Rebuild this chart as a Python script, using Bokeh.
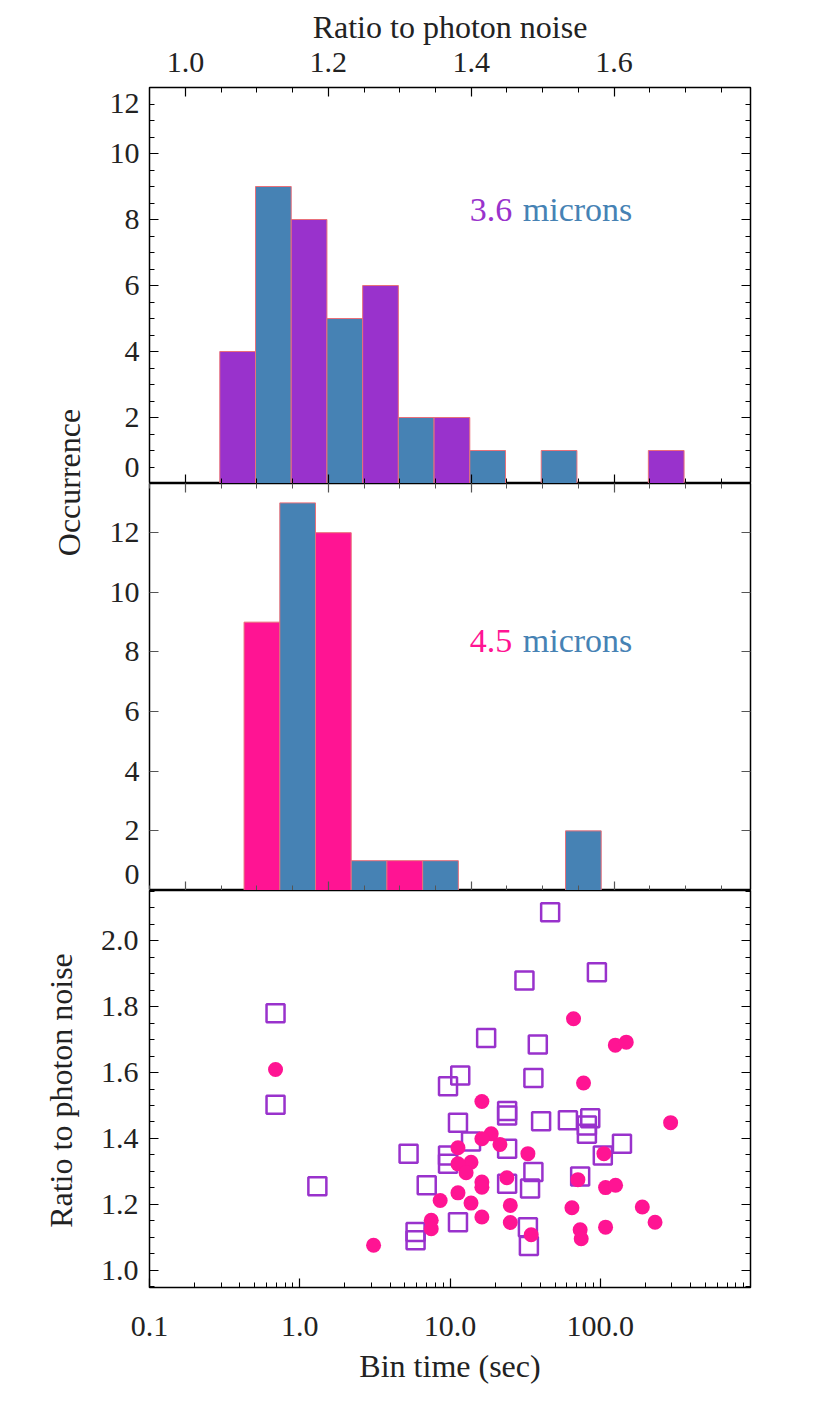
import math

from bokeh.core.properties import value
from bokeh.embed import file_html
from bokeh.layouts import column, row
from bokeh.models import FixedTicker, LinearAxis, LogAxis, PrintfTickFormatter, Range1d
from bokeh.plotting import figure
from bokeh.resources import INLINE

# ---------------------------------------------------------------- data
# Histogram of the ratio to photon noise, 3.6 micron channel
bin_edges_36 = [1.048, 1.098, 1.148, 1.198, 1.248, 1.298, 1.348, 1.398,
                1.448, 1.498, 1.548, 1.598, 1.648, 1.698]
counts_36 = [4, 9, 8, 5, 6, 2, 2, 1, 0, 1, 0, 0, 1]

# Histogram of the ratio to photon noise, 4.5 micron channel
bin_edges_45 = [1.082, 1.132, 1.182, 1.232, 1.282, 1.332, 1.382, 1.432,
                1.482, 1.532, 1.582]
counts_45 = [9, 13, 12, 1, 1, 1, 0, 0, 0, 2]

# Bin time (sec) vs ratio to photon noise, 3.6 micron (open squares)
time_36 = [0.69, 0.69, 1.31, 5.3, 7.0, 5.9, 5.9, 46.4, 95.0, 31.3, 17.4, 38.4,
           11.7, 9.7, 35.9, 11.3, 24.0, 24.0, 40.4, 60.9, 85.8, 81.5, 81.5,
           13.8, 24.0, 9.7, 9.7, 104.0, 139.5, 35.9, 73.5, 24.0, 34.1, 11.3,
           33.0, 33.5]
ratio_36 = [1.780, 1.502, 1.255, 1.354, 1.258, 1.116, 1.091, 2.086, 1.904,
            1.879, 1.705, 1.685, 1.591, 1.558, 1.583, 1.448, 1.483, 1.470,
            1.452, 1.455, 1.461, 1.439, 1.414, 1.391, 1.369, 1.348, 1.323,
            1.348, 1.384, 1.298, 1.285, 1.263, 1.248, 1.146, 1.131, 1.074]

# Bin time (sec) vs ratio to photon noise, 4.5 micron (filled circles)
time_45 = [0.69, 3.1, 66.4, 126.0, 149.0, 77.4, 16.3, 294.0, 18.8, 16.3, 21.5,
           11.3, 33.0, 105.8, 13.8, 11.3, 12.8, 23.9, 71.0, 16.3, 16.3, 11.3,
           8.6, 108.5, 126.5, 13.8, 25.2, 64.8, 190.5, 7.5, 7.5, 16.3, 25.2,
           231.6, 73.5, 74.7, 108.5, 34.7]
ratio_45 = [1.609, 1.076, 1.763, 1.683, 1.692, 1.568, 1.512, 1.448, 1.414,
            1.399, 1.382, 1.372, 1.354, 1.354, 1.328, 1.323, 1.296, 1.281,
            1.275, 1.268, 1.252, 1.235, 1.212, 1.251, 1.258, 1.204, 1.197,
            1.190, 1.192, 1.152, 1.126, 1.162, 1.145, 1.146, 1.123, 1.096,
            1.131, 1.108]

ratio_ticks = [1.0, 1.2, 1.4, 1.6]
count_ticks_36 = [0, 2, 4, 6, 8, 10, 12]
count_ticks_45 = [0, 2, 4, 6, 8, 10, 12]
time_ticks = [0.1, 1.0, 10.0, 100.0]
noise_ticks = [1.0, 1.2, 1.4, 1.6, 1.8, 2.0]

# ---------------------------------------------------------------- style
FONT = "Liberation Serif"
PURPLE = "#9932CC"
BLUE = "#4682B4"
PINK = "#FF1493"
EDGE = "#E8707A"
INK = "#222222"

RATIO_RANGE = (0.9496, 1.791)
COL_W = 736
LEFT_W = 90
BORDER_L = 59
BORDER_R = 76


def style_axis(ax, tick_color="black", labels=True, standoff=11):
    ax.axis_line_color = None
    ax.major_tick_in = 9
    ax.major_tick_out = 0
    ax.minor_tick_in = 5
    ax.minor_tick_out = 0
    ax.major_tick_line_color = tick_color
    ax.minor_tick_line_color = tick_color
    ax.major_tick_line_width = 1.2
    ax.minor_tick_line_width = 1.0
    ax.major_label_text_font = FONT
    if labels:
        ax.major_label_text_color = INK
        ax.major_label_text_font_size = "30px"
        ax.major_label_standoff = standoff
    else:
        ax.major_label_text_color = None
        ax.major_label_text_font_size = "1px"
        ax.major_label_standoff = 0
    ax.axis_label_text_font = FONT
    ax.axis_label_text_font_size = "32px"
    ax.axis_label_text_font_style = "normal"
    ax.axis_label_text_color = INK


def base_figure(height, border_top, border_bottom, **kw):
    p = figure(width=COL_W, height=height, toolbar_location=None,
               output_backend="svg", x_axis_location=None, y_axis_location=None,
               min_border_left=BORDER_L, min_border_right=BORDER_R,
               min_border_top=border_top, min_border_bottom=border_bottom, **kw)
    p.grid.visible = False
    p.outline_line_color = "black"
    p.outline_line_width = 1.5
    p.background_fill_color = "white"
    p.border_fill_color = "white"
    return p


ratio_minor = [round(0.95 + 0.05 * i, 2) for i in range(18)]


def ratio_axes(p, tick_color, top_label=False):
    top = LinearAxis(ticker=FixedTicker(ticks=ratio_ticks, minor_ticks=ratio_minor),
                     formatter=PrintfTickFormatter(format="%.1f"))
    style_axis(top, tick_color, labels=top_label, standoff=16)
    if top_label:
        top.axis_label = "Ratio to photon noise"
        top.axis_label_standoff = 5
    p.add_layout(top, "above")
    bottom = LinearAxis(ticker=FixedTicker(ticks=ratio_ticks, minor_ticks=ratio_minor))
    style_axis(bottom, tick_color, labels=False)
    p.add_layout(bottom, "below")


def count_axes(p, ticks, minor, tick_color, nudges):
    """Tick marks on both sides; labels on the left, with the end labels
    pulled inside the panel so that stacked panels do not cut them."""
    marks = LinearAxis(ticker=FixedTicker(ticks=ticks, minor_ticks=minor))
    style_axis(marks, tick_color, labels=False)
    p.add_layout(marks, "left")

    label_pos = [t + nudges.get(t, 0.0) for t in ticks]
    overrides = {pos: str(t) for pos, t in zip(label_pos, ticks) if t in nudges}
    names = LinearAxis(ticker=FixedTicker(ticks=label_pos, minor_ticks=[]),
                       formatter=PrintfTickFormatter(format="%d"),
                       major_label_overrides=overrides)
    style_axis(names, tick_color, labels=True, standoff=10)
    names.major_tick_in = 0
    names.minor_tick_in = 0
    names.major_tick_line_color = None
    names.minor_tick_line_color = None
    p.add_layout(names, "left")

    right = LinearAxis(ticker=FixedTicker(ticks=ticks, minor_ticks=minor))
    style_axis(right, tick_color, labels=False)
    p.add_layout(right, "right")


def histogram(p, edges, counts, colors):
    left = edges[:-1]
    right = edges[1:len(counts) + 1]
    fills = [colors[i % 2] for i in range(len(counts))]
    p.quad(left=left, right=right, bottom=[0] * len(counts), top=counts,
           fill_color=fills, line_color=EDGE, line_width=1)


def caption(p, x, y, num, color):
    p.text(x=[x], y=[y], text=[num], text_color=color, text_font=value(FONT),
           text_font_size="34px", text_align="left", text_baseline="alphabetic")
    p.text(x=[x], y=[y], text=["microns"], x_offset=53, text_color=BLUE,
           text_font=value(FONT), text_font_size="34px", text_align="left",
           text_baseline="alphabetic")


# ---------------------------------------------------------------- 3.6 micron histogram
p1 = base_figure(483, 87, 0, x_range=Range1d(*RATIO_RANGE), y_range=Range1d(0, 12))
ratio_axes(p1, "black", top_label=True)
count_axes(p1, count_ticks_36, [0.5 * i for i in range(25)], "black",
           {0: 0.5, 12: -0.485})
histogram(p1, bin_edges_36, counts_36, [PURPLE, BLUE])
caption(p1, 1.398, 8.3, "3.6", PURPLE)

# ---------------------------------------------------------------- 4.5 micron histogram
p2 = base_figure(407, 0, 0, x_range=Range1d(*RATIO_RANGE), y_range=Range1d(0, 13.65))
ratio_axes(p2, "#555555")
count_axes(p2, count_ticks_45, [], "#555555", {0: 0.54})
histogram(p2, bin_edges_45, counts_45, [PINK, BLUE])
caption(p2, 1.398, 8.37, "4.5", PINK)

# ---------------------------------------------------------------- scatter
p3 = base_figure(526, 0, 129, x_axis_type="log", x_range=Range1d(0.1, 1000),
                 y_range=Range1d(0.948, 2.152))
time_minor = [m * 10.0 ** k for k in range(-1, 3) for m in range(1, 10)] + [1000.0]
bottom3 = LogAxis(ticker=FixedTicker(ticks=time_ticks, minor_ticks=time_minor),
                  formatter=PrintfTickFormatter(format="%.1f"))
style_axis(bottom3, "black", standoff=29)
bottom3.axis_label = "Bin time (sec)"
bottom3.axis_label_standoff = 9
p3.add_layout(bottom3, "below")
noise_minor = [round(0.95 + 0.05 * i, 2) for i in range(25)]
left3 = LinearAxis(ticker=FixedTicker(ticks=noise_ticks, minor_ticks=noise_minor),
                   formatter=PrintfTickFormatter(format="%.1f"))
style_axis(left3, "black")
p3.add_layout(left3, "left")
right3 = LinearAxis(ticker=FixedTicker(ticks=noise_ticks, minor_ticks=noise_minor))
style_axis(right3, "black", labels=False)
p3.add_layout(right3, "right")

p3.scatter(time_36, ratio_36, marker="square", size=18, fill_color=None,
           line_color=PURPLE, line_width=2.5)
p3.scatter(time_45, ratio_45, marker="circle", size=15, fill_color=PINK,
           line_color=None)


# ---------------------------------------------------------------- side titles
def side_title(height, y, x, text):
    f = figure(width=LEFT_W, height=height, toolbar_location=None,
               output_backend="svg", x_range=Range1d(0, LEFT_W),
               y_range=Range1d(0, height), x_axis_location=None,
               y_axis_location=None, min_border=0)
    f.grid.visible = False
    f.outline_line_color = None
    f.text(x=[x], y=[y], text=[text], angle=math.pi / 2, text_align="center",
           text_baseline="middle", text_font=value(FONT), text_font_size="32px",
           text_color=INK)
    return f


occ = side_title(890, 408, 68, "Occurrence")
rat = side_title(526, 326, 60, "Ratio to photon noise")

layout = row(column(occ, rat), column(p1, p2, p3))

open("out.html", "w").write(file_html(layout, INLINE))
